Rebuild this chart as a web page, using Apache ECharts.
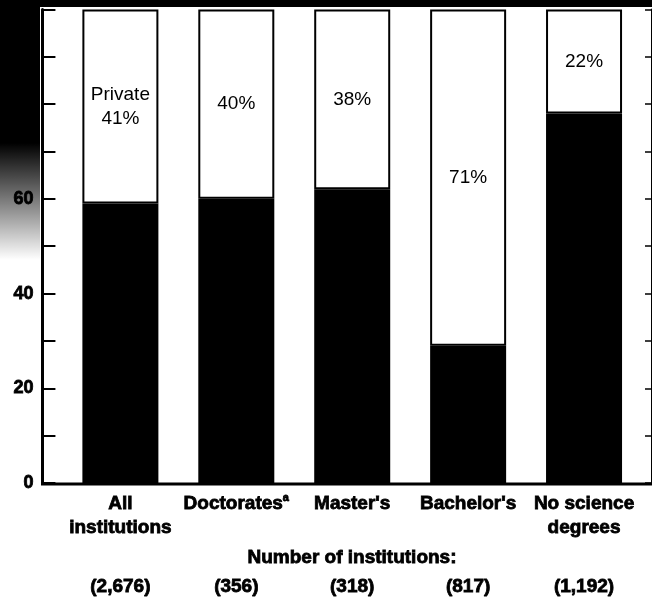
<!DOCTYPE html>
<html>
<head>
<meta charset="utf-8">
<script src="https://cdn.jsdelivr.net/npm/echarts@6/dist/echarts.min.js"></script>
<style>
  html, body { margin: 0; padding: 0; background: #fff; }
  #chart { width: 652px; height: 602px; }
</style>
</head>
<body>
<div id="chart"></div>
<script>
const categories = ['All\ninstitutions', 'Doctorates', "Master's", "Bachelor's", 'No science\ndegrees']
const footnotes = ['', 'a', '', '', '']
const counts = ['(2,676)', '(356)', '(318)', '(817)', '(1,192)']
const publicShare = [59, 60, 62, 29, 78]
const privateShare = [41, 40, 38, 71, 22]

const font = '"Liberation Sans", Arial, sans-serif'
// heavy scanned type: bold plus a thin outline
const heavy = { fontFamily: font, fontWeight: 'bold', color: '#000', textBorderColor: '#000', textBorderWidth: 0.8 }

const myChart = echarts.init(document.getElementById('chart'), null, { width: 652, height: 602 })

myChart.setOption({
  animation: false,
  backgroundColor: '#fff',
  grid: { left: 62, right: 10, top: 8, bottom: 119 },
  xAxis: {
    type: 'category',
    data: categories,
    axisLine: { show: false },
    axisTick: { show: false },
    axisLabel: {
      interval: 0,
      margin: 9,
      formatter: (value, index) => {
        const [l1, l2 = ' '] = value.split('\n')
        let first = `{c|${l1}}`
        if (footnotes[index]) first += `{sup|${footnotes[index]}}`
        return `${first}\n{c|${l2}}\n{gap| }\n{n|${counts[index]}}`
      },
      rich: {
        c: { ...heavy, fontSize: 19, lineHeight: 24 },
        sup: { ...heavy, fontSize: 11, lineHeight: 24, verticalAlign: 'top' },
        gap: { fontSize: 4, lineHeight: 30 },
        n: { ...heavy, fontSize: 19, lineHeight: 34 }
      }
    }
  },
  yAxis: [
    {
      type: 'value',
      min: 0,
      max: 100,
      interval: 10,
      offset: 20,
      axisLine: { show: true, lineStyle: { color: '#000', width: 3 } },
      axisTick: { show: true, inside: true, length: 13, lineStyle: { color: '#000', width: 2 } },
      splitLine: { show: false },
      axisLabel: {
        ...heavy,
        margin: 9,
        fontSize: 18,
        formatter: v => (v % 20 === 0 ? v : '')
      }
    },
    {
      type: 'value',
      position: 'right',
      min: 0,
      max: 100,
      interval: 10,
      offset: 10,
      axisLine: { show: true, lineStyle: { color: '#000', width: 2 } },
      axisTick: { show: true, inside: true, length: 7, lineStyle: { color: '#000', width: 1.5 } },
      splitLine: { show: false },
      axisLabel: { show: false }
    }
  ],
  series: [
    {
      name: 'Public',
      type: 'bar',
      stack: 'total',
      barWidth: 76,
      data: publicShare,
      itemStyle: { color: '#000' }
    },
    {
      name: 'Private',
      type: 'bar',
      stack: 'total',
      barWidth: 76,
      data: privateShare,
      itemStyle: { color: '#fff', borderColor: '#000', borderWidth: 2 },
      label: {
        show: true,
        position: 'inside',
        color: '#000',
        fontFamily: font,
        fontSize: 19,
        lineHeight: 24,
        formatter: p => (p.dataIndex === 0 ? 'Private\n' : '') + p.value + '%'
      }
    }
  ],
  graphic: [
    {
      type: 'rect',
      z: -10,
      shape: { x: 0, y: 0, width: 40, height: 260 },
      style: {
        fill: new echarts.graphic.LinearGradient(0, 0, 0, 1, [
          { offset: 0, color: '#000' },
          { offset: 0.55, color: '#000' },
          { offset: 0.8, color: 'rgba(0,0,0,0.45)' },
          { offset: 1, color: 'rgba(0,0,0,0)' }
        ])
      }
    },
    {
      type: 'rect',
      z: 100,
      shape: { x: 0, y: 0, width: 652, height: 7 },
      style: { fill: '#000' }
    },
    {
      type: 'line',
      z: 100,
      shape: { x1: 41, y1: 484, x2: 652, y2: 484 },
      style: { stroke: '#000', lineWidth: 3 }
    },
    {
      type: 'text',
      z: 100,
      x: 352,
      y: 558,
      style: {
        text: 'Number of institutions:',
        fontFamily: font,
        fontSize: 19,
        fontWeight: 'bold',
        fill: '#000',
        stroke: '#000',
        lineWidth: 0.8,
        align: 'center',
        verticalAlign: 'middle'
      }
    }
  ]
})
</script>
</body>
</html>
